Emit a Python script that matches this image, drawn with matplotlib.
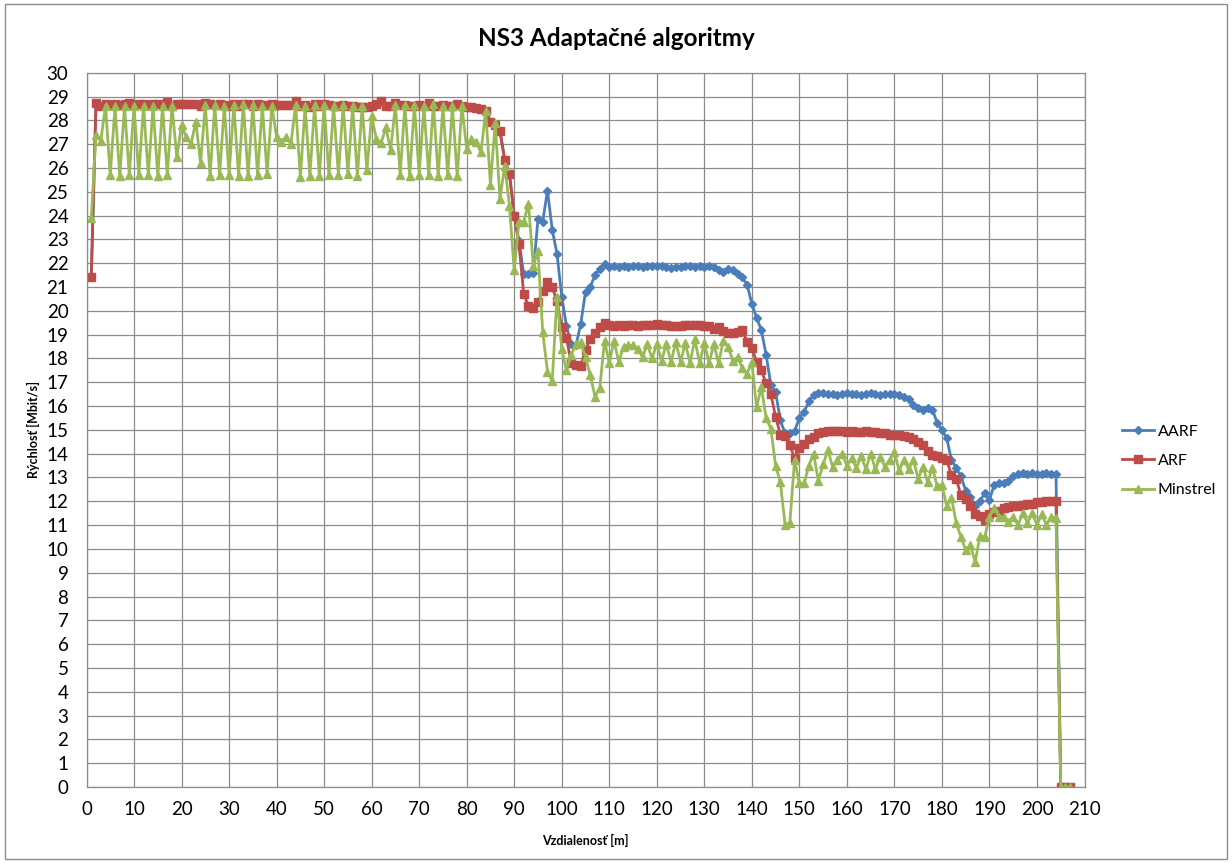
import matplotlib
matplotlib.use('Agg')
import matplotlib.pyplot as plt
from matplotlib.patches import Rectangle

plt.rcParams['font.family'] = ['Lato', 'DejaVu Sans']

#%% data
distance = list(range(1, 208))

aarf = [
    21.4, 28.72, 28.6, 28.68, 28.65, 28.7, 28.65, 28.7, 28.72, 28.65,
    28.7, 28.68, 28.65, 28.7, 28.68, 28.65, 28.75, 28.6, 28.68, 28.7,
    28.7, 28.68, 28.7, 28.62, 28.72, 28.7, 28.65, 28.68, 28.65, 28.62,
    28.7, 28.62, 28.68, 28.7, 28.62, 28.7, 28.65, 28.65, 28.68, 28.65,
    28.65, 28.66, 28.65, 28.82, 28.62, 28.65, 28.58, 28.68, 28.6, 28.7,
    28.65, 28.62, 28.6, 28.66, 28.6, 28.62, 28.55, 28.58, 28.55, 28.6,
    28.7, 28.8, 28.62, 28.6, 28.72, 28.66, 28.65, 28.62, 28.6, 28.65,
    28.62, 28.72, 28.62, 28.6, 28.65, 28.62, 28.6, 28.68, 28.6, 28.58,
    28.55, 28.52, 28.48, 28.4, 27.95, 27.8, 27.55, 26.35, 25.75, 24.0,
    22.95, 21.55, 21.55, 21.6, 23.85, 23.75, 25.05, 23.4, 22.4, 20.6,
    19.35, 18.6, 18.55, 19.45, 20.8, 21.0, 21.5, 21.75, 21.97, 21.85,
    21.87, 21.85, 21.88, 21.85, 21.87, 21.88, 21.85, 21.9, 21.87, 21.88,
    21.9, 21.85, 21.8, 21.83, 21.85, 21.9, 21.88, 21.85, 21.87, 21.85,
    21.88, 21.85, 21.7, 21.65, 21.75, 21.7, 21.55, 21.4, 21.1, 20.3,
    19.7, 19.2, 18.15, 16.9, 16.6, 15.4, 14.85, 14.85, 14.95, 15.5,
    15.75, 16.2, 16.45, 16.55, 16.55, 16.5, 16.5, 16.45, 16.5, 16.55,
    16.5, 16.5, 16.45, 16.5, 16.55, 16.5, 16.45, 16.5, 16.5, 16.5,
    16.45, 16.4, 16.3, 16.05, 15.9, 15.85, 15.9, 15.85, 15.3, 15.0,
    14.65, 13.75, 13.4, 13.05, 12.45, 12.2, 11.8, 12.0, 12.35, 12.05,
    12.7, 12.75, 12.75, 12.85, 13.05, 13.15, 13.2, 13.15, 13.2, 13.15,
    13.15, 13.2, 13.15, 13.15, 0, 0, 0,
]

arf = [
    21.4, 28.72, 28.6, 28.68, 28.65, 28.7, 28.65, 28.7, 28.72, 28.65,
    28.7, 28.68, 28.65, 28.7, 28.68, 28.65, 28.75, 28.6, 28.68, 28.7,
    28.7, 28.68, 28.7, 28.62, 28.72, 28.7, 28.65, 28.68, 28.65, 28.62,
    28.7, 28.62, 28.68, 28.7, 28.62, 28.7, 28.65, 28.65, 28.68, 28.65,
    28.65, 28.66, 28.65, 28.82, 28.62, 28.65, 28.58, 28.68, 28.6, 28.7,
    28.65, 28.62, 28.6, 28.66, 28.6, 28.62, 28.55, 28.58, 28.55, 28.6,
    28.7, 28.8, 28.62, 28.6, 28.72, 28.66, 28.65, 28.62, 28.6, 28.65,
    28.62, 28.72, 28.62, 28.6, 28.65, 28.62, 28.6, 28.68, 28.6, 28.58,
    28.55, 28.52, 28.48, 28.4, 27.95, 27.8, 27.55, 26.35, 25.75, 24.0,
    22.8, 20.7, 20.2, 20.1, 20.35, 20.85, 21.2, 21.0, 20.4, 19.3,
    18.85, 17.8, 17.72, 17.68, 18.35, 18.8, 19.05, 19.3, 19.48, 19.4,
    19.35, 19.4, 19.35, 19.4, 19.4, 19.35, 19.4, 19.4, 19.4, 19.45,
    19.4, 19.4, 19.35, 19.35, 19.35, 19.4, 19.4, 19.4, 19.4, 19.35,
    19.35, 19.25, 19.3, 19.15, 19.05, 19.05, 19.1, 19.2, 18.7, 18.45,
    17.85, 17.5, 16.95, 16.5, 15.55, 14.8, 14.75, 14.35, 13.8, 14.25,
    14.4, 14.6, 14.7, 14.85, 14.9, 14.95, 14.95, 14.95, 14.95, 14.9,
    14.95, 14.9, 14.9, 14.95, 14.9, 14.9, 14.85, 14.85, 14.8, 14.8,
    14.8, 14.75, 14.7, 14.6, 14.5, 14.35, 14.1, 13.95, 13.9, 13.8,
    13.75, 13.1, 12.95, 12.25, 12.1, 11.8, 11.45, 11.4, 11.2, 11.45,
    11.55, 11.6, 11.7, 11.75, 11.8, 11.8, 11.85, 11.9, 11.9, 11.95,
    11.95, 12.0, 12.0, 12.0, 0, 0, 0,
]

minstrel = [
    23.9, 27.4, 27.15, 28.6, 25.7, 28.6, 25.65, 28.6, 25.7, 28.6,
    25.7, 28.6, 25.7, 28.6, 25.65, 28.6, 25.7, 28.6, 26.45, 27.8,
    27.3, 27.0, 27.95, 26.2, 28.65, 25.65, 28.65, 25.7, 28.6, 25.7,
    28.65, 25.65, 28.7, 25.65, 28.65, 25.7, 28.6, 25.75, 28.6, 27.3,
    27.1, 27.3, 27.0, 28.65, 25.6, 28.6, 25.65, 28.65, 25.65, 28.65,
    25.7, 28.6, 25.7, 28.65, 25.75, 28.6, 25.65, 28.6, 25.9, 28.2,
    27.2, 27.05, 27.7, 26.75, 28.65, 25.7, 28.65, 25.65, 28.65, 25.7,
    28.6, 25.7, 28.7, 25.65, 28.6, 25.7, 28.6, 25.65, 28.6, 26.8,
    27.2, 27.1, 26.65, 28.4, 25.3, 27.9, 24.7, 26.1, 24.4, 21.7,
    23.75, 23.75, 24.5, 21.9, 22.5, 19.1, 17.45, 17.05, 20.6, 18.4,
    17.5, 18.15, 18.6, 18.7, 18.05, 17.3, 16.4, 16.75, 18.75, 17.8,
    18.75, 17.85, 18.5, 18.55, 18.55, 18.4, 18.05, 18.6, 18.0, 18.6,
    17.9, 18.6, 17.85, 18.7, 17.85, 18.65, 17.8, 18.8, 17.8, 18.65,
    17.8, 18.6, 17.8, 18.75, 18.5, 17.9, 18.05, 17.6, 17.35, 17.85,
    15.95, 16.8, 15.5, 15.05, 13.5, 12.8, 11.0, 11.1, 13.75, 12.75,
    12.75, 13.5, 14.0, 12.85, 13.55, 14.15, 13.45, 13.75, 14.0, 13.5,
    13.8, 13.4, 13.9, 13.35, 14.0, 13.35, 13.85, 13.45, 13.75, 14.05,
    13.3, 13.75, 13.35, 13.75, 12.95, 13.45, 12.8, 13.4, 12.65, 12.7,
    11.8, 12.15, 11.1, 10.5, 9.95, 10.15, 9.45, 10.55, 10.5, 11.35,
    11.7, 11.35, 11.35, 11.15, 11.35, 11.0, 11.5, 11.1, 11.5, 11.0,
    11.45, 11.0, 11.35, 11.3, 0, 0, 0,
]

x_ticks = list(range(0, 211, 10))
y_ticks = list(range(0, 31))

#%% plot
fig = plt.figure(figsize=(12.32, 8.63), dpi=100)
ax = fig.add_axes([86.5 / 1232, 1 - 787 / 863, 998 / 1232, 714.3 / 863])

ax.plot(distance, aarf, color='#4A7EBB', lw=2.0, marker='D', ms=4.2, label='AARF')
ax.plot(distance, arf, color='#BE4B48', lw=2.0, marker='s', ms=5.2, label='ARF')
ax.plot(distance, minstrel, color='#98B954', lw=2.0, marker='^', ms=5.8, label='Minstrel')

ax.set_xlim(0, 210)
ax.set_ylim(0, 30)
ax.set_xticks(x_ticks)
ax.set_yticks(y_ticks)
ax.tick_params(length=0, labelsize=13.5)
ax.tick_params(axis='y', pad=13)
ax.tick_params(axis='x', pad=10)
ax.grid(True, color='#8c8c8c', lw=0.9)
ax.set_axisbelow(True)
for s in ax.spines.values():
    s.set_color('#8c8c8c')
    s.set_linewidth(0.9)

ax.set_xlabel('Vzdialenosť [m]', fontsize=9, fontweight='bold', va='center')
ax.set_ylabel('Rýchlosť [Mbit/s]', fontsize=9, fontweight='bold', va='center')
ax.xaxis.set_label_coords(0.5, (787 - 840) / 714.3)
ax.yaxis.set_label_coords((33 - 86.5) / 998, 0.5)

fig.text(0.5, 1 - 38 / 863, 'NS3 Adaptačné algoritmy', ha='center', va='center',
         fontsize=17.5, fontweight='bold')

ax.legend(loc='center left', bbox_to_anchor=(1108 / 1232, 1 - 461 / 863),
          bbox_transform=fig.transFigure, frameon=False, fontsize=11.5,
          handlelength=2.0, labelspacing=0.95, handletextpad=0.2)

# chart area border
fig.patches.append(Rectangle((5 / 1232, 4 / 863), 1222 / 1232, 855 / 863,
                             transform=fig.transFigure, fill=False,
                             edgecolor='#8c8c8c', lw=1))

fig.savefig('out.png', dpi=100)
